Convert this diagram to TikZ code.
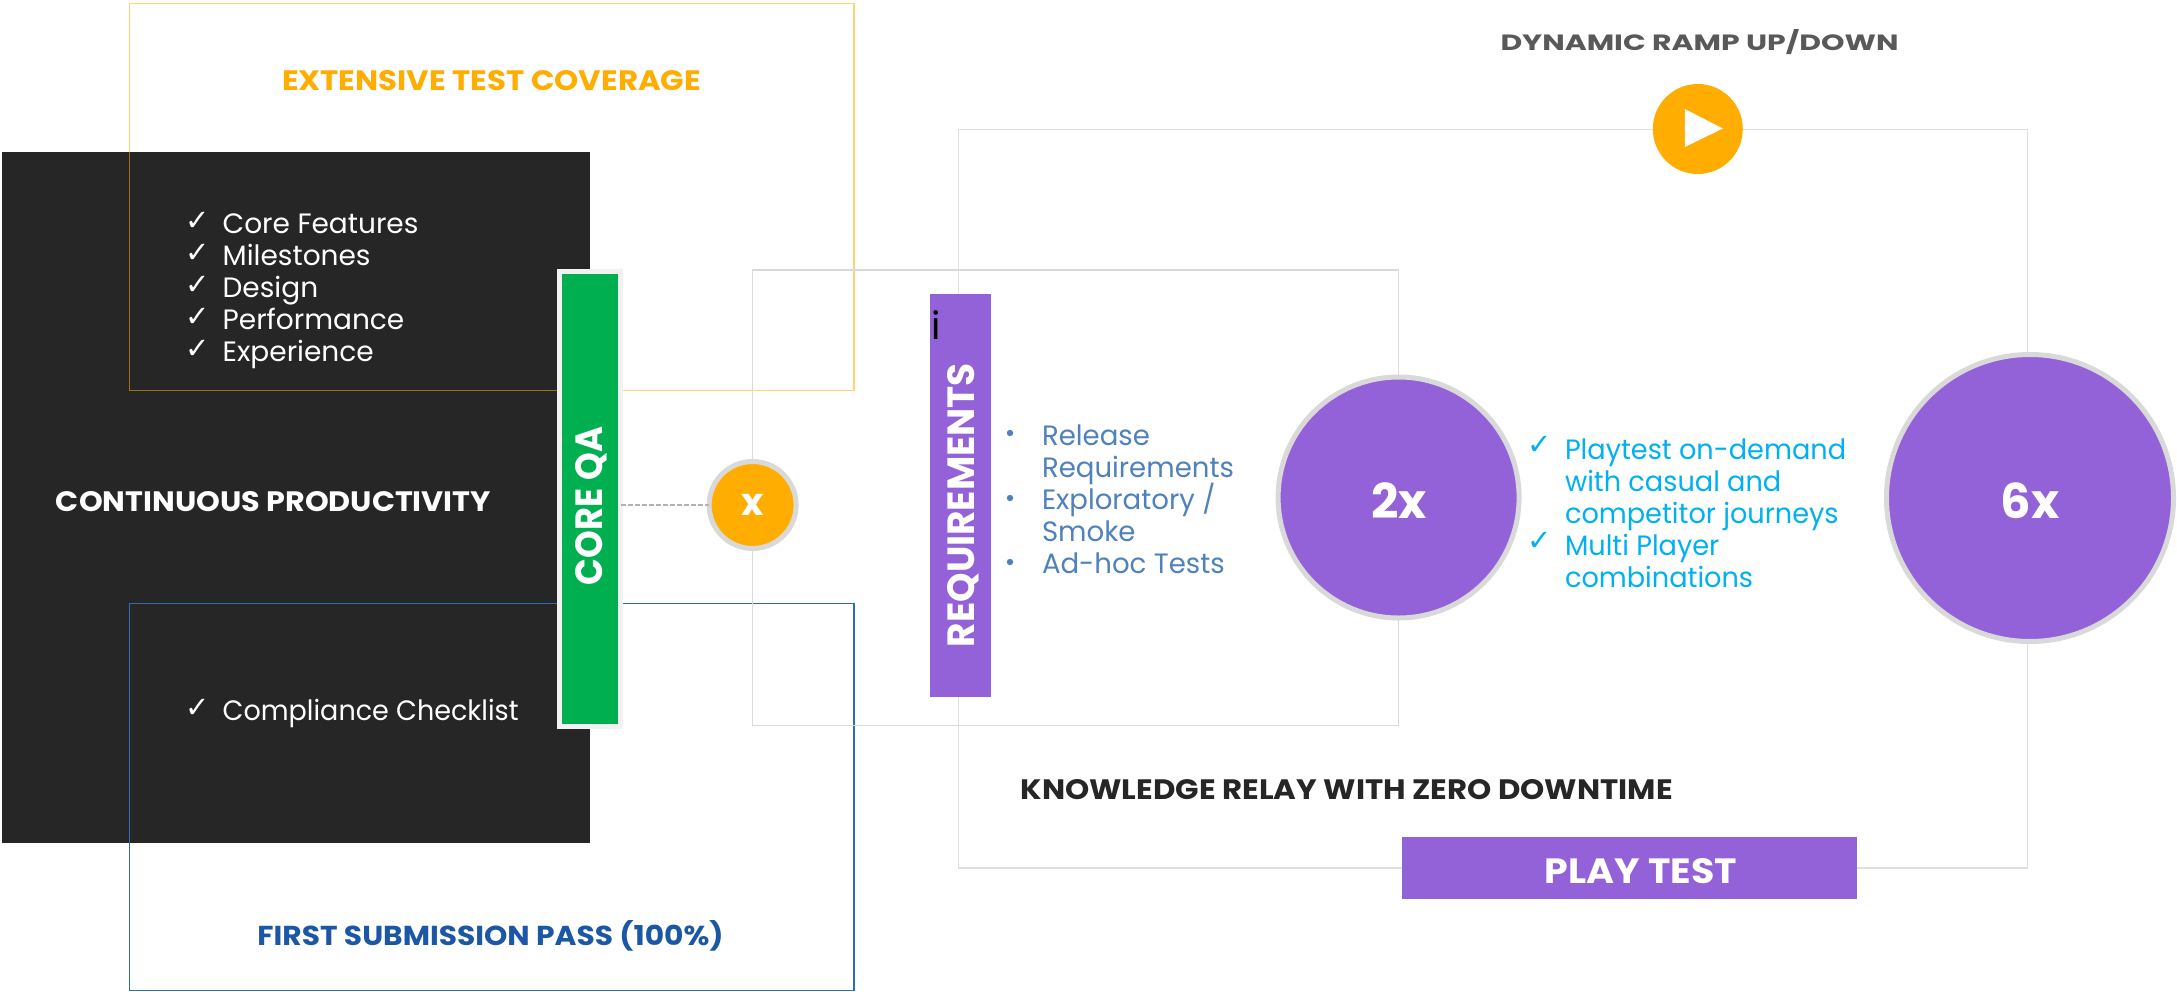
\documentclass[tikz,border=0pt]{standalone}
\usepackage{fontspec}
\setmainfont{Poppins}
\newfontfamily\chk{DejaVu Sans}
\definecolor{cpurple}{HTML}{9361D8}
\definecolor{corange}{HTML}{FFAD00}
\definecolor{cgreen}{HTML}{00B050}
\definecolor{cdark}{HTML}{262626}
\definecolor{cring}{HTML}{D9D9D9}
\definecolor{cyel}{HTML}{FFAD00}
\definecolor{cblue}{HTML}{2E6DB4}
\definecolor{cbluet}{HTML}{1C57A6}
\definecolor{creq}{HTML}{4F81BD}
\definecolor{ccyan}{HTML}{00B0F0}
\newcommand{\hd}[3]{\resizebox{#1pt}{#2pt}{\bfseries #3}}
\newcommand{\bodyfs}{\fontsize{28}{32}\selectfont}
\newcommand{\bodyb}[2]{\scalebox{#1}[1]{\bodyfs #2}}
\newcommand{\explo}{Exploratory /}
\tikzset{
  every node/.style={inner sep=0pt,outer sep=0pt},
  framebox/.style={draw,anchor=north west,minimum width=#1},
  ring/.style={circle,draw=cring,line width=5pt,minimum size=#1},
  txt/.style={anchor=base west},
  chkmark/.style={anchor=base west,font=\chk\fontsize{29}{32}\selectfont}
}
\begin{document}
\begin{tikzpicture}[x=1pt,y=-1pt]
\useasboundingbox (0,0) rectangle (2177,991);
\node[fill=cdark,anchor=north west,minimum width=588pt,minimum height=691pt] (panel) at (2,152) {};
\node[framebox=724.5pt,minimum height=387pt,draw=cyel,draw opacity=.55,line width=1.6pt] (yelbox) at (129.5,3.5) {};
\node[framebox=724.5pt,minimum height=387pt,draw=cblue,line width=1.4pt] (blubox) at (129.5,603.5) {};
\node[framebox=646pt,minimum height=455.5pt,draw=cring,line width=1.5pt] (boxa) at (752.6,270) {};
\node[framebox=1069pt,minimum height=738.5pt,draw=cring!85!white,line width=1.2pt] (boxb) at (958.5,129.5) {};
%
\node[text=corange] (t1) at (491.5,80.5) {\hd{419}{20}{EXTENSIVE TEST COVERAGE}};
\node[text=white] (t2) at (273.5,502) {\hd{435}{20}{CONTINUOUS PRODUCTIVITY}};
\node[text=cbluet] (t3) at (490.5,936) {\hd{466}{25}{FIRST SUBMISSION PASS (100\%)}};
\node[text=cdark] (t4) at (1346.7,790) {\hd{652}{20}{KNOWLEDGE RELAY WITH ZERO DOWNTIME}};
\node[text=black!65] (t5) at (1699.5,42.5) {\hd{398}{21}{DYNAMIC RAMP UP/DOWN}};
%
\foreach \n/\y/\s in {a/233/Core Features,b/265/Milestones,c/297/Design,d/329/Performance,e/361/Experience}{
  \node[chkmark,text=white] (ck\n) at (185,\y-3) {✓};
  \node[txt,text=white] (li\n) at (222.7,\y) {\bodyb{1}{\s}};
}
\node[chkmark,text=white] (ckf) at (185,717) {✓};
\node[txt,text=white] (lif) at (222.7,720) {\bodyb{.965}{Compliance Checklist}};
%
\node[fill=cgreen,draw=white!95!black,line width=5pt,anchor=north west,minimum width=61pt,minimum height=455pt] (core) at (559.5,271.5) {};
\node[rotate=90,text=white] (coret) at (591,506) {\hd{158}{27}{CORE QA}};
\node[ring=87pt,fill=corange,text=white] (xc) at (752.6,505) {\fontsize{38}{40}\selectfont\bfseries x};
\draw[black!30,dash pattern=on 5pt off 2pt,line width=1.6pt] (core.east |- xc) -- (xc.west);
%
\node[fill=cpurple,anchor=north west,minimum width=61pt,minimum height=403pt] (req) at (930,294) {};
\node[rotate=90,text=white] (reqt) at (963,505) {\hd{284}{27}{REQUIREMENTS}};
\node[anchor=base,text=black,font=\fontsize{38}{40}\selectfont] (ibar) at (936,339) {i};
%
\foreach \n/\y/\s in {a/445/Release,b/477/Requirements,c/509/\explo,d/541/Smoke,e/573/Ad-hoc Tests}{
  \node[txt,text=creq] (rq\n) at (1042,\y) {\bodyb{.985}{\s}};
}
\foreach \n/\y in {a/433,c/498,e/562}{
  \fill[creq] (1010,\y) circle (3.2pt);
}
\foreach \n/\y/\s in {a/459/Playtest on-demand,b/491/with casual and,c/523/competitor journeys,d/555/Multi Player,e/587/combinations}{
  \node[txt,text=ccyan] (pl\n) at (1565,\y) {\bodyb{.97}{\s}};
}
\node[chkmark,text=ccyan] (cka) at (1527,454) {✓};
\node[chkmark,text=ccyan] (ckb) at (1527,550) {✓};
%
\node[ring=241pt,fill=cpurple] (two) at (1398.6,497.5) {};
\node[text=white,font=\fontsize{48}{50}\selectfont\bfseries] (twot) at (1399,500.5) {2x};
\node[ring=287pt,fill=cpurple] (six) at (2030,498) {};
\node[text=white,font=\fontsize{48}{50}\selectfont\bfseries] (sixt) at (2030,500.5) {6x};
\node[circle,fill=corange,minimum size=90pt] (play) at (1697.8,129) {};
\fill[white] (1684.8,109) -- (1722.8,128.5) -- (1684.8,147) -- cycle;
\node[fill=cpurple,anchor=north west,minimum width=454.5pt,minimum height=62pt] (pt) at (1402,836.5) {};
\node[text=white] (ptt) at (1641,871) {\hd{192}{25}{PLAY TEST}};
\end{tikzpicture}
\end{document}
